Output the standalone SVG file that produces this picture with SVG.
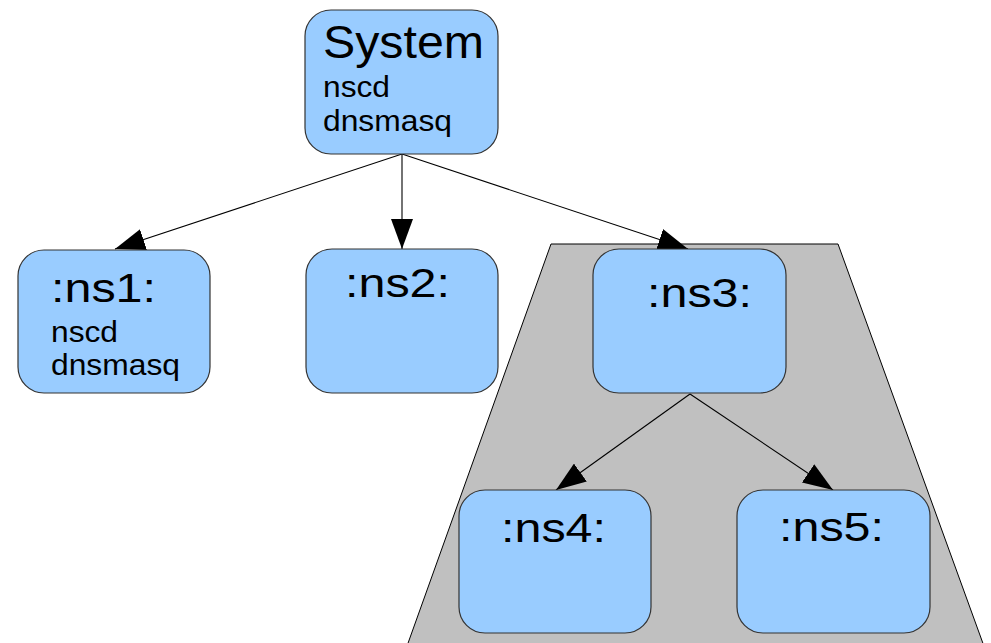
<svg xmlns="http://www.w3.org/2000/svg" width="991" height="643" viewBox="0 0 991 643">
  <style>
    .box { fill: #99ccff; stroke: #333333; stroke-width: 1.2; }
    .head { font-family: "Liberation Sans", Arial, sans-serif; font-size: 47px; fill: #000000; }
    .title { font-family: "Liberation Sans", Arial, sans-serif; font-size: 40px; fill: #000000; }
    .item { font-family: "Liberation Sans", Arial, sans-serif; font-size: 29px; fill: #000000; }
    .edge { stroke: #000000; stroke-width: 1.1; fill: none; marker-end: url(#head); }
  </style>
  <defs>
    <marker id="head" markerUnits="userSpaceOnUse" markerWidth="30" markerHeight="22" refX="30" refY="11" orient="auto">
      <path d="M0,0 L30,11 L0,22 z" fill="#000000"/>
    </marker>
  </defs>
  <rect width="991" height="643" fill="#ffffff"/>

  <!-- shaded container around ns3 and its children -->
  <g id="container">
    <polygon points="551,244 838,244 989,660 402,660" fill="#c0c0c0" stroke="#000000" stroke-width="1"/>
  </g>

  <g id="connectors">
    <line class="edge" x1="402" y1="154" x2="115" y2="249"/>
    <line class="edge" x1="402" y1="154" x2="402" y2="249"/>
    <line class="edge" x1="402" y1="154" x2="688" y2="249"/>
    <line class="edge" x1="690" y1="394" x2="556" y2="490"/>
    <line class="edge" x1="690" y1="394" x2="833" y2="490"/>
  </g>

  <g id="system">
    <rect class="box" x="305" y="10" width="193" height="144" rx="26"/>
    <text class="head" x="323" y="58" textLength="161" lengthAdjust="spacingAndGlyphs">System</text>
    <text class="item" x="323" y="97" textLength="67" lengthAdjust="spacingAndGlyphs">nscd</text>
    <text class="item" x="323" y="131" textLength="129" lengthAdjust="spacingAndGlyphs">dnsmasq</text>
  </g>

  <g id="ns1">
    <rect class="box" x="18" y="250" width="192" height="143" rx="26"/>
    <text class="title" x="51" y="302" textLength="105" lengthAdjust="spacingAndGlyphs">:ns1:</text>
    <text class="item" x="51" y="342" textLength="67" lengthAdjust="spacingAndGlyphs">nscd</text>
    <text class="item" x="51" y="375" textLength="129" lengthAdjust="spacingAndGlyphs">dnsmasq</text>
  </g>

  <g id="ns2">
    <rect class="box" x="306" y="249" width="192" height="144" rx="26"/>
    <text class="title" x="345" y="297" textLength="105" lengthAdjust="spacingAndGlyphs">:ns2:</text>
  </g>

  <g id="ns3">
    <rect class="box" x="593" y="249" width="193" height="144" rx="26"/>
    <text class="title" x="647" y="307" textLength="105" lengthAdjust="spacingAndGlyphs">:ns3:</text>
  </g>

  <g id="ns4">
    <rect class="box" x="459" y="490" width="192" height="143" rx="26"/>
    <text class="title" x="501" y="542" textLength="105" lengthAdjust="spacingAndGlyphs">:ns4:</text>
  </g>

  <g id="ns5">
    <rect class="box" x="737" y="490" width="193" height="143" rx="26"/>
    <text class="title" x="779" y="541" textLength="105" lengthAdjust="spacingAndGlyphs">:ns5:</text>
  </g>
</svg>
